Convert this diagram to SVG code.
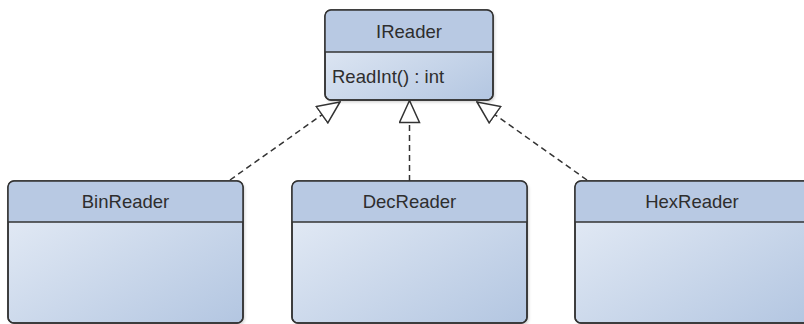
<svg xmlns="http://www.w3.org/2000/svg" width="804" height="324" viewBox="0 0 804 324">
<style>
.box{stroke:#333;stroke-width:1.5;fill:url(#body)}
.hdr{fill:#b8c9e3}
.div{stroke:#333;stroke-width:1.5}
.t{font-family:"Liberation Sans",Arial,sans-serif;font-size:18.5px;fill:#2e2e2e}
.conn{stroke:#333;stroke-width:1.5;stroke-dasharray:6,4;fill:none;marker-end:url(#tri)}
</style>
<defs>
<linearGradient id="body" x1="0" y1="0" x2="1" y2="1">
<stop offset="0" stop-color="#e8eef7"/>
<stop offset="1" stop-color="#b3c6e1"/>
</linearGradient>
<filter id="sh" x="-10%" y="-10%" width="120%" height="130%">
<feDropShadow dx="1.5" dy="2" stdDeviation="1.5" flood-color="#000" flood-opacity="0.2"/>
</filter>
<clipPath id="cI"><rect x="325" y="10" width="168" height="90" rx="6"/></clipPath>
<clipPath id="cB"><rect x="8" y="181" width="235" height="142" rx="6"/></clipPath>
<clipPath id="cD"><rect x="292" y="181" width="235" height="142" rx="6"/></clipPath>
<clipPath id="cH"><rect x="575" y="181" width="235" height="142" rx="6"/></clipPath>
<marker id="tri" viewBox="0 0 24 22" refX="23" refY="11" markerWidth="24" markerHeight="22" markerUnits="userSpaceOnUse" orient="auto">
<path d="M23,11 L1,1 L1,21 Z" fill="#fff" stroke="#333" stroke-width="1.5" stroke-linejoin="miter"/>
</marker>
</defs>
<g id="connectors">
<line class="conn" x1="230" y1="180" x2="340" y2="102"/>
<line class="conn" x1="409.5" y1="181" x2="409.5" y2="100.5"/>
<line class="conn" x1="587" y1="180" x2="477" y2="102"/>
</g>
<g id="IReader">
<rect x="325" y="10" width="168" height="90" rx="6" fill="#fff" filter="url(#sh)"/>
<rect class="box" x="325" y="10" width="168" height="90" rx="6"/>
<rect class="hdr" x="325" y="10" width="168" height="42" clip-path="url(#cI)"/>
<rect x="325" y="10" width="168" height="90" rx="6" fill="none" stroke="#333" stroke-width="1.5"/>
<line class="div" x1="325" y1="52" x2="493" y2="52"/>
<text class="t" x="409" y="38" text-anchor="middle">IReader</text>
<text class="t" x="332" y="83">ReadInt() : int</text>
</g>
<g id="BinReader">
<rect x="8" y="181" width="235" height="142" rx="6" fill="#fff" filter="url(#sh)"/>
<rect class="box" x="8" y="181" width="235" height="142" rx="6"/>
<rect class="hdr" x="8" y="181" width="235" height="41" clip-path="url(#cB)"/>
<rect x="8" y="181" width="235" height="142" rx="6" fill="none" stroke="#333" stroke-width="1.5"/>
<line class="div" x1="8" y1="222" x2="243" y2="222"/>
<text class="t" x="125.5" y="208" text-anchor="middle">BinReader</text>
</g>
<g id="DecReader">
<rect x="292" y="181" width="235" height="142" rx="6" fill="#fff" filter="url(#sh)"/>
<rect class="box" x="292" y="181" width="235" height="142" rx="6"/>
<rect class="hdr" x="292" y="181" width="235" height="41" clip-path="url(#cD)"/>
<rect x="292" y="181" width="235" height="142" rx="6" fill="none" stroke="#333" stroke-width="1.5"/>
<line class="div" x1="292" y1="222" x2="527" y2="222"/>
<text class="t" x="409.5" y="208" text-anchor="middle">DecReader</text>
</g>
<g id="HexReader">
<rect x="575" y="181" width="235" height="142" rx="6" fill="#fff" filter="url(#sh)"/>
<rect class="box" x="575" y="181" width="235" height="142" rx="6"/>
<rect class="hdr" x="575" y="181" width="235" height="41" clip-path="url(#cH)"/>
<rect x="575" y="181" width="235" height="142" rx="6" fill="none" stroke="#333" stroke-width="1.5"/>
<line class="div" x1="575" y1="222" x2="810" y2="222"/>
<text class="t" x="692" y="208" text-anchor="middle">HexReader</text>
</g>
</svg>
